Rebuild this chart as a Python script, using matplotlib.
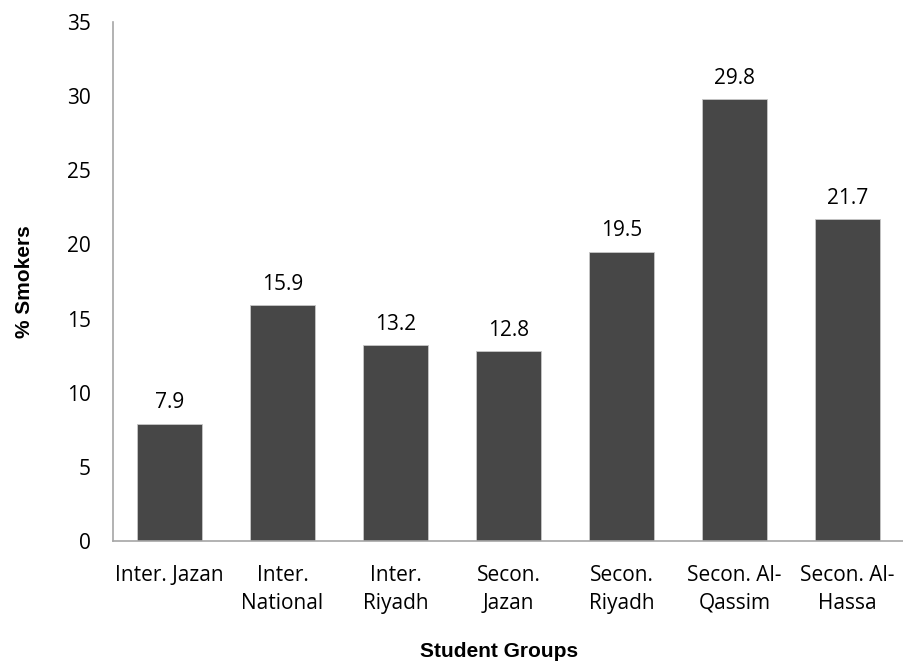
import matplotlib

matplotlib.use("Agg")
import matplotlib.pyplot as plt

groups = ["Inter. Jazan", "Inter.\nNational", "Inter.\nRiyadh", "Secon.\nJazan",
          "Secon.\nRiyadh", "Secon. Al-\nQassim", "Secon. Al-\nHassa"]
smokers = [7.9, 15.9, 13.2, 12.8, 19.5, 29.8, 21.7]
yticks = [0, 5, 10, 15, 20, 25, 30, 35]

plt.rcParams["font.family"] = ["Open Sans", "DejaVu Sans"]

fig = plt.figure(figsize=(9.04, 6.65), dpi=100)
ax = fig.add_axes([0.125, 0.1865, 0.875, 0.7805])

x = range(len(groups))
bars = ax.bar(x, smokers, width=0.58, color="#474747", edgecolor="#c8c8c8", linewidth=0.6)
for b, v in zip(bars, smokers):
	ax.text(b.get_x() + b.get_width() / 2, v + 0.7, f"{v}", ha="center", va="bottom",
	        fontsize=15, color="black")

ax.set_xlim(-0.5, len(groups) - 0.5)
ax.set_ylim(0, 35)
ax.set_yticks(yticks)
ax.set_xticks(list(x))
ax.set_xticklabels(groups, fontsize=15, linespacing=1.45)
ax.tick_params(axis="y", labelsize=15, length=0, pad=16)
ax.tick_params(axis="x", length=0, pad=17)
for side in ["top", "right"]:
	ax.spines[side].set_visible(False)
for side in ["left", "bottom"]:
	ax.spines[side].set_color("#a6a6a6")
	ax.spines[side].set_linewidth(1.2)

fig.text(0.027, 0.577, "% Smokers", rotation=90, ha="center", va="center",
         fontsize=15, fontweight="bold", family="Liberation Sans")
fig.text(0.552, 0.02, "Student Groups", ha="center", va="center",
         fontsize=15, fontweight="bold", family="Liberation Sans")

fig.savefig("out.png", dpi=100)
